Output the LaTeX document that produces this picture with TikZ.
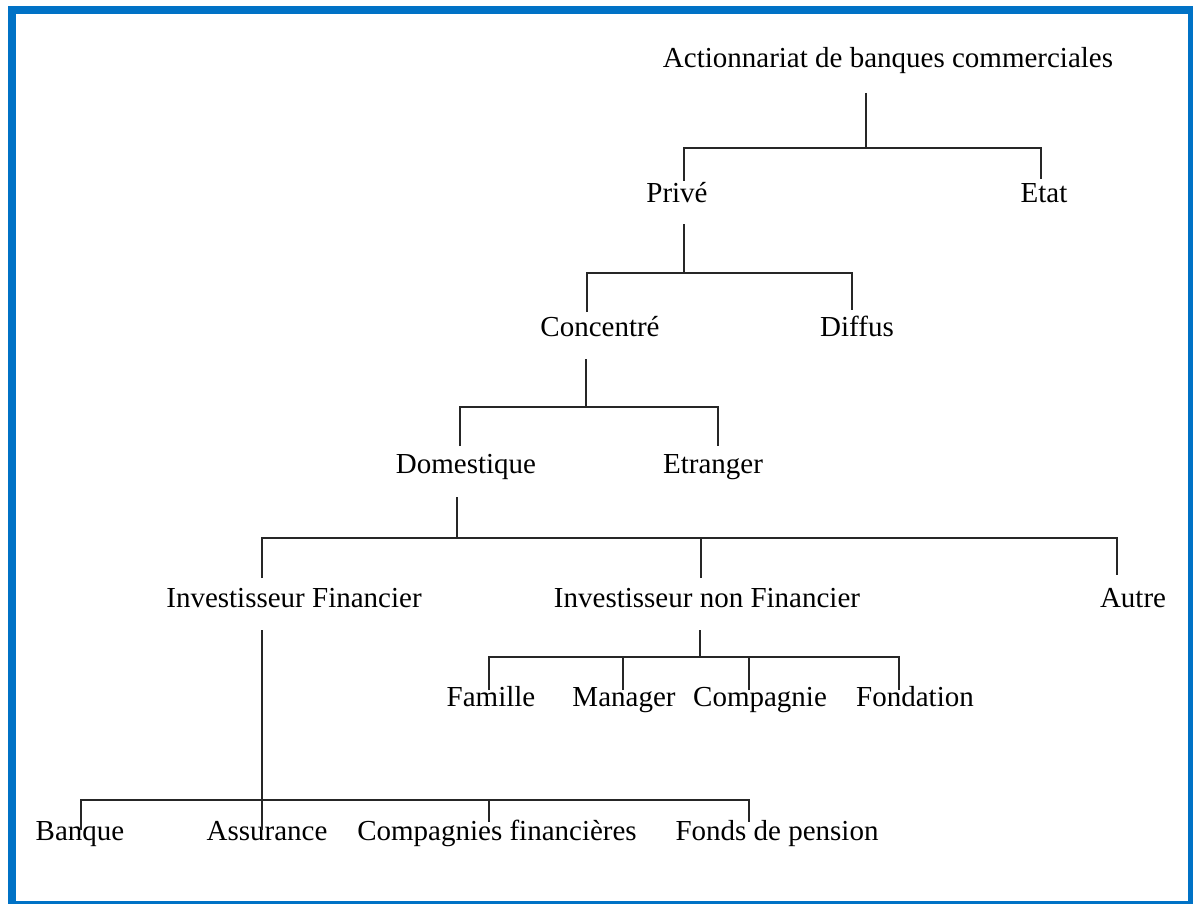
\documentclass[tikz,border=0pt]{standalone}
\usepackage{fontspec}
\setmainfont{Liberation Serif}
\definecolor{frameblue}{RGB}{0,114,198}
\begin{document}
\begin{tikzpicture}[x=1pt,y=-1pt,
  lbl/.style={anchor=base,inner sep=0pt,font=\fontsize{29}{34}\selectfont},
  conn/.style={draw=black!85,line width=1.3pt}]
\useasboundingbox (0,0) rectangle (1193,904);
\begin{scope}
\clip (0,0) rectangle (1193,904);
\draw[frameblue,line width=8pt] (12,10) rectangle (1192,905);
\end{scope}
% nodes
\node[lbl] (root) at (888,68) {Actionnariat de banques commerciales};
\node[lbl] (prive) at (677,202) {Privé};
\node[lbl] (etat) at (1044,202) {Etat};
\node[lbl] (conc) at (600,336) {Concentré};
\node[lbl] (diff) at (857,336) {Diffus};
\node[lbl] (dom) at (466,473) {Domestique};
\node[lbl] (etr) at (713,473) {Etranger};
\node[lbl] (invf) at (294,607) {Investisseur Financier};
\node[lbl] (invnf) at (707,607) {Investisseur non Financier};
\node[lbl] (autre) at (1133,607) {Autre};
\node[lbl] (fam) at (491,706) {Famille};
\node[lbl] (man) at (624,706) {Manager};
\node[lbl] (comp) at (760,706) {Compagnie};
\node[lbl] (fond) at (915,706) {Fondation};
\node[lbl] (banq) at (80,840) {Banque};
\node[lbl] (assu) at (267,840) {Assurance};
\node[lbl] (compf) at (497,840) {Compagnies financières};
\node[lbl] (fonds) at (777,840) {Fonds de pension};
% connectors
\coordinate (rootd) at (866,93);
\coordinate (priveu) at (684,181);
\coordinate (etatu) at (1041,179);
\draw[conn] (rootd) -- (866,148);
\draw[conn] (priveu) |- (etatu |- 0,148) -- (etatu);
\coordinate (prived) at (684,224);
\coordinate (concu) at (587,312);
\coordinate (diffu) at (852,310);
\draw[conn] (prived) -- (684,273);
\draw[conn] (concu) |- (diffu |- 0,273) -- (diffu);
\coordinate (concd) at (586,359);
\coordinate (domu) at (460,446);
\coordinate (etru) at (718,446);
\draw[conn] (concd) -- (586,407);
\draw[conn] (domu) |- (etru |- 0,407) -- (etru);
\coordinate (domd) at (457,497);
\coordinate (invfu) at (262,578);
\coordinate (invnfu) at (701,578);
\coordinate (autreu) at (1117,575);
\draw[conn] (domd) -- (457,538);
\draw[conn] (invfu) |- (autreu |- 0,538) -- (autreu);
\draw[conn] (invnfu) -- (701,538);
\coordinate (invnfd) at (700,630);
\coordinate (famu) at (489,690);
\coordinate (manu) at (623,690);
\coordinate (compu) at (749,690);
\coordinate (fondu) at (899,690);
\draw[conn] (invnfd) -- (700,657);
\draw[conn] (famu) |- (fondu |- 0,657) -- (fondu);
\draw[conn] (manu) -- (623,657);
\draw[conn] (compu) -- (749,657);
\coordinate (invfd) at (262,630);
\coordinate (assuu) at (262,830);
\coordinate (banqu) at (81,830);
\coordinate (compfu) at (489,822);
\coordinate (fondsu) at (749,822);
\draw[conn] (invfd) -- (assuu);
\draw[conn] (banqu) |- (fondsu |- 0,800) -- (fondsu);
\draw[conn] (compfu) -- (489,800);
\end{tikzpicture}
\end{document}
